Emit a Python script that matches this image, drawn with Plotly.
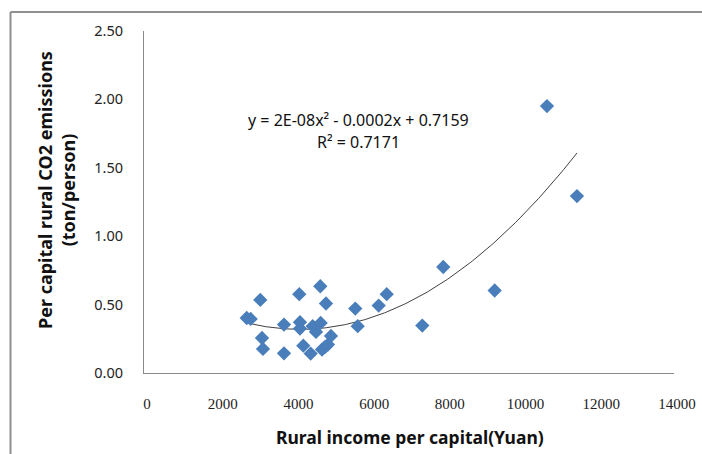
import numpy as np
import plotly.graph_objects as go

# Data
income = [2713, 2818, 3072, 3117, 3143, 3698, 3698, 4102, 4120, 4120,
          4208, 4403, 4456, 4543, 4657, 4667, 4702, 4780, 4807, 4860,
          4939, 5581, 5645, 6199, 6411, 7351, 7905, 9263, 10645, 11437]
co2 = [0.402, 0.395, 0.534, 0.256, 0.176, 0.354, 0.144, 0.576, 0.371, 0.325,
       0.200, 0.142, 0.342, 0.300, 0.634, 0.366, 0.171, 0.190, 0.508, 0.208,
       0.271, 0.471, 0.342, 0.493, 0.576, 0.347, 0.775, 0.603, 1.951, 1.293]

x_ticks = [0, 2000, 4000, 6000, 8000, 10000, 12000, 14000]
y_ticks = [0.0, 0.5, 1.0, 1.5, 2.0, 2.5]
y_tick_text = ["0.00", "0.50", "1.00", "1.50", "2.00", "2.50"]

x_title = "Rural income per capital(Yuan)"
y_title = "Per capital rural CO2 emissions<br>(ton/person)"
eq_text = "y = 2E-08x² - 0.0002x + 0.7159"
r2_text = "R² = 0.7171"

# Polynomial (order 2) trendline fitted to the data
coef = np.polyfit(income, co2, 2)
xs = np.linspace(min(income), max(income), 200)
ys = np.polyval(coef, xs)

fig = go.Figure()
fig.add_trace(go.Scatter(x=xs, y=ys, mode="lines",
                         line=dict(color="#404040", width=1), hoverinfo="skip"))
fig.add_trace(go.Scatter(x=income, y=co2, mode="markers",
                         marker=dict(symbol="diamond", size=11, color="#4A7EBB",
                                     line=dict(width=0))))

W, H = 702, 454
L, R, T, B = 144, 28, 31, 81
PW, PH = W - L - R, H - T - B


def px(x):
    return (x - L) / PW


def py(y):
    return (H - B - y) / PH


fig.update_layout(
    width=W, height=H,
    margin=dict(l=L, r=R, t=T, b=B, pad=0, autoexpand=False),
    paper_bgcolor="white", plot_bgcolor="white",
    showlegend=False,
    font=dict(family="Noto Sans", size=13, color="#000000"),
    xaxis=dict(range=[0, 14000], tickvals=x_ticks, ticktext=[str(v) for v in x_ticks],
               showgrid=False, zeroline=False, showline=True, linecolor="#8a8a8a",
               linewidth=1, ticks="", automargin=False,
               tickfont=dict(family="Liberation Serif", size=15, color="#222"),
               ticklabelstandoff=17, ticklabelshift=3),
    yaxis=dict(range=[0, 2.5], tickvals=y_ticks, ticktext=y_tick_text,
               showgrid=False, zeroline=False, showline=True, linecolor="#8a8a8a",
               linewidth=1, ticks="", automargin=False,
               tickfont=dict(family="Noto Sans", size=14.5, color="#222"),
               ticklabelstandoff=17),
)

# Axis titles
fig.add_annotation(x=px(410), y=py(437), xref="paper", yref="paper", text="<b>" + x_title + "</b>",
                   showarrow=False, xanchor="center", yanchor="middle",
                   font=dict(family="Noto Sans", size=17.5, color="#111"))
fig.add_annotation(x=px(56), y=py(190), xref="paper", yref="paper", text="<b>" + y_title + "</b>",
                   showarrow=False, textangle=-90, xanchor="center", yanchor="middle",
                   font=dict(family="Noto Sans", size=18, color="#111"))

# Trendline equation
fig.add_annotation(x=px(358), y=py(120), xref="paper", yref="paper", text=eq_text, showarrow=False,
                   xanchor="center", yanchor="middle",
                   font=dict(family="Noto Sans", size=16, color="#111"))
fig.add_annotation(x=px(358), y=py(142), xref="paper", yref="paper", text=r2_text, showarrow=False,
                   xanchor="center", yanchor="middle",
                   font=dict(family="Noto Sans", size=16, color="#111"))

# Chart-area border (left and top edges visible in the cropped reference)
bx = px(10.5)
by = py(12)
fig.add_shape(type="line", xref="paper", yref="paper", x0=bx, x1=bx, y0=-0.4, y1=by,
              line=dict(color="#909090", width=2))
fig.add_shape(type="line", xref="paper", yref="paper", x0=bx, x1=1.2, y0=by, y1=by,
              line=dict(color="#909090", width=2))

fig.write_html("out.html", config={"displayModeBar": False},
               post_script="document.body.style.margin='0';document.body.style.overflow='hidden';")
